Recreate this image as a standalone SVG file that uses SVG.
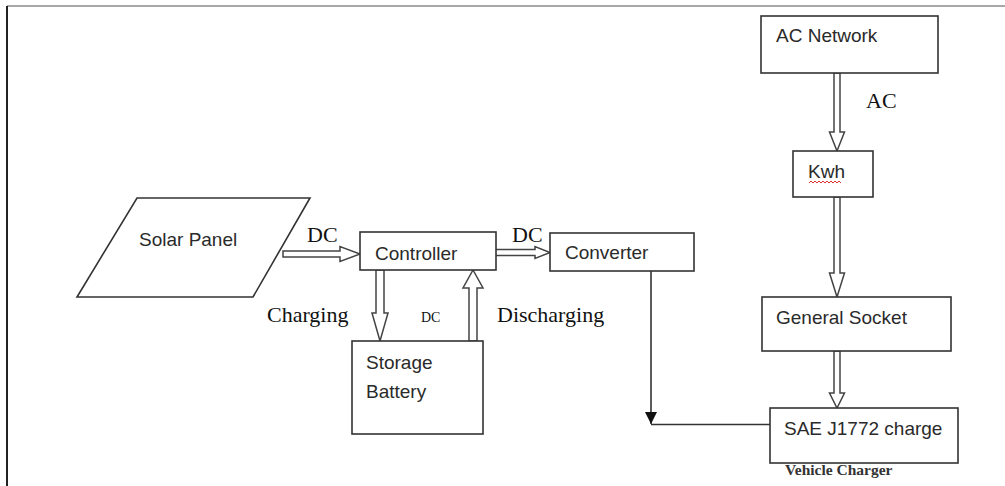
<svg xmlns="http://www.w3.org/2000/svg" width="1005" height="486" viewBox="0 0 1005 486">
<defs>
<style>
.box{fill:#fff;stroke:#333;stroke-width:1.6}
.harrow{fill:#fff;stroke:#444;stroke-width:1.5;stroke-linejoin:miter}
.lbl{font-family:"Liberation Sans",Arial,sans-serif;font-size:19px;fill:#2a2a2a}
.ser{font-family:"Liberation Serif","Times New Roman",serif;font-size:22px;fill:#111}
.line{fill:none;stroke:#333;stroke-width:1.6}
</style>
<marker id="tri" viewBox="0 0 10 10" refX="10" refY="5" markerWidth="12" markerHeight="12" markerUnits="userSpaceOnUse" orient="auto">
<path d="M0,0 L10,5 L0,10 Z" fill="#111"/>
</marker>
</defs>
<rect width="1005" height="486" fill="#fff"/>
<g id="frame">
<line x1="7" y1="6" x2="1005" y2="6" stroke="#8a8a8a" stroke-width="1.6"/>
<line x1="7" y1="6" x2="7" y2="486" stroke="#222" stroke-width="2"/>
</g>
<g id="connectors">
<polygon class="harrow" points="834,73 834,132 829.5,132 837,151 844.5,132 840,132 840,73"/>
<polygon class="harrow" points="834,197 834,273 829.5,273 837,297 844.5,273 840,273 840,197"/>
<polygon class="harrow" points="834,351 834,393 829.5,393 837,408 844.5,393 840,393 840,351"/>
<polygon class="harrow" points="283,251 340,251 340,246.5 360,254 340,261.5 340,257 283,257"/>
<polygon class="harrow" points="495,249.5 535,249.5 535,246.5 550,252.5 535,258.5 535,255.5 495,255.5"/>
<polygon class="harrow" points="376,270 376,313 372,313 380,341 388,313 384,313 384,270"/>
<polygon class="harrow" points="469,341 469,288 463,288 473,270 483,288 477,288 477,341"/>
<line class="line" x1="651" y1="271" x2="651" y2="424" marker-end="url(#tri)"/>
<line class="line" x1="651" y1="424.5" x2="770" y2="424.5"/>
<text class="ser" x="307" y="242">DC</text>
<text class="ser" x="512" y="242">DC</text>
<text class="ser" x="866" y="108">AC</text>
<text class="ser" x="267" y="322">Charging</text>
<text class="ser" x="421" y="322" style="font-size:14px">DC</text>
<text class="ser" x="497" y="322">Discharging</text>
</g>
<g id="solar-panel">
<polygon class="box" points="137,198 310,198 253,297 77,297"/>
<text class="lbl" x="139" y="246">Solar Panel</text>
</g>
<g id="controller">
<rect class="box" x="360" y="232" width="136" height="38"/>
<text class="lbl" x="375" y="260">Controller</text>
</g>
<g id="converter">
<rect class="box" x="550" y="233" width="144" height="38"/>
<text class="lbl" x="565" y="259">Converter</text>
</g>
<g id="storage-battery">
<rect class="box" x="352" y="341" width="131" height="93"/>
<text class="lbl" x="366" y="369">Storage</text>
<text class="lbl" x="366" y="398">Battery</text>
</g>
<g id="ac-network">
<rect class="box" x="761" y="16" width="177" height="57"/>
<text class="lbl" x="776" y="42">AC Network</text>
</g>
<g id="kwh">
<rect class="box" x="793" y="151" width="80" height="46"/>
<text class="lbl" x="808" y="178">Kwh</text>
<path d="M809,183 l2,-2 l2,2 l2,-2 l2,2 l2,-2 l2,2 l2,-2 l2,2 l2,-2 l2,2 l2,-2 l2,2 l2,-2 l2,2 l2,-2 l2,2" fill="none" stroke="#e03030" stroke-width="1"/>
</g>
<g id="general-socket">
<rect class="box" x="762" y="297" width="189" height="54"/>
<text class="lbl" x="776" y="324">General Socket</text>
</g>
<g id="sae-j1772">
<rect class="box" x="770" y="408" width="188" height="55"/>
<text class="lbl" x="784" y="435">SAE J1772 charge</text>
<text class="ser" x="785" y="475" style="font-size:15.5px;font-weight:bold;fill:#333">Vehicle Charger</text>
</g>
</svg>
